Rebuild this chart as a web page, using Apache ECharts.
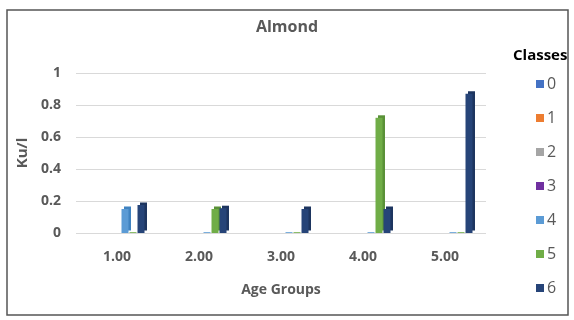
<!DOCTYPE html>
<html><head><meta charset="utf-8">
<script src="https://cdn.jsdelivr.net/npm/echarts@6/dist/echarts.min.js"></script>
<style>html,body{margin:0;padding:0;background:#fff}#c{width:574px;height:320px}</style>
</head><body><div id="c"></div>
<script>
const categories = ['1.00','2.00','3.00','4.00','5.00'];
const classNames = ['0','1','2','3','4','5','6'];
const class0 = [0,0,0,0,0];
const class1 = [0,0,0,0,0];
const class2 = [0,0,0,0,0];
const class3 = [0,0,0,0,0];
const class4 = [0.15,0.005,0.005,0.005,0.005];
const class5 = [0.005,0.15,0.005,0.72,0.005];
const class6 = [0.175,0.155,0.15,0.15,0.87];
const yTicks = [0,0.2,0.4,0.6,0.8,1];
const colors = ['#4472C4','#ED7D31','#A5A5A5','#7030A0','#5B9BD5','#70AD47','#264478'];
const shade = ['#2F5597','#C55A11','#7F7F7F','#4B1F6F','#3F82C0','#5A9138','#1D355F'];
const seriesData = [class0,class1,class2,class3,class4,class5,class6];

const font = 'Open Sans';
const chart = echarts.init(document.getElementById('c'));
chart.setOption({
  animation:false,
  title:[
    {text:'Almond',left:'center',top:14,textStyle:{fontFamily:font,fontSize:16,fontWeight:'bold',color:'#595959'}},
    {text:'Classes',left:508,top:43,textStyle:{fontFamily:font,fontSize:15,fontWeight:'bold',color:'#000'}}
  ],
  graphic:[{type:'rect',shape:{x:7,y:10,width:561,height:305},style:{fill:'none',stroke:'#555',lineWidth:1.5}}],
  legend:{orient:'vertical',left:531,top:71,itemWidth:8,itemHeight:8,itemGap:18,icon:'rect',
    data:classNames,textStyle:{fontFamily:font,fontSize:16,color:'#595959',padding:[0,0,0,-2]}},
  grid:{left:76,right:88,top:73,bottom:87},
  xAxis:{type:'category',data:categories,
    axisLine:{show:false},axisTick:{show:false},
    axisLabel:{margin:17,fontFamily:font,fontSize:14,fontWeight:'bold',color:'#595959'},
    name:'Age Groups',nameLocation:'middle',nameGap:50,
    nameTextStyle:{fontFamily:font,fontSize:14,fontWeight:'bold',color:'#595959'}},
  yAxis:{type:'value',min:0,max:1,interval:0.2,
    axisLine:{show:false},axisTick:{show:false},
    splitLine:{lineStyle:{color:'#d9d9d9',width:1}},
    axisLabel:{margin:15,fontFamily:font,fontSize:14,fontWeight:'bold',color:'#595959',
      formatter:v=>{const r=Math.round(v*10)/10;return yTicks.includes(r)?String(r):'';}},
    name:'Ku/l',nameLocation:'middle',nameGap:46,nameRotate:90,
    nameTextStyle:{fontFamily:font,fontSize:15,fontWeight:'bold',color:'#595959'}},
  series: seriesData.map((d,i)=>({
    name:classNames[i],type:'bar',barWidth:7,barGap:'14.3%',
    data:d.map(v=>({value:v,itemStyle:v<0.01?{shadowOffsetX:0,shadowOffsetY:0,shadowColor:'rgba(0,0,0,0)'}:{}})),
    itemStyle:{color:colors[i],shadowColor:shade[i],shadowOffsetX:2.5,shadowOffsetY:-2.5,shadowBlur:0}
  }))
});
</script></body></html>
